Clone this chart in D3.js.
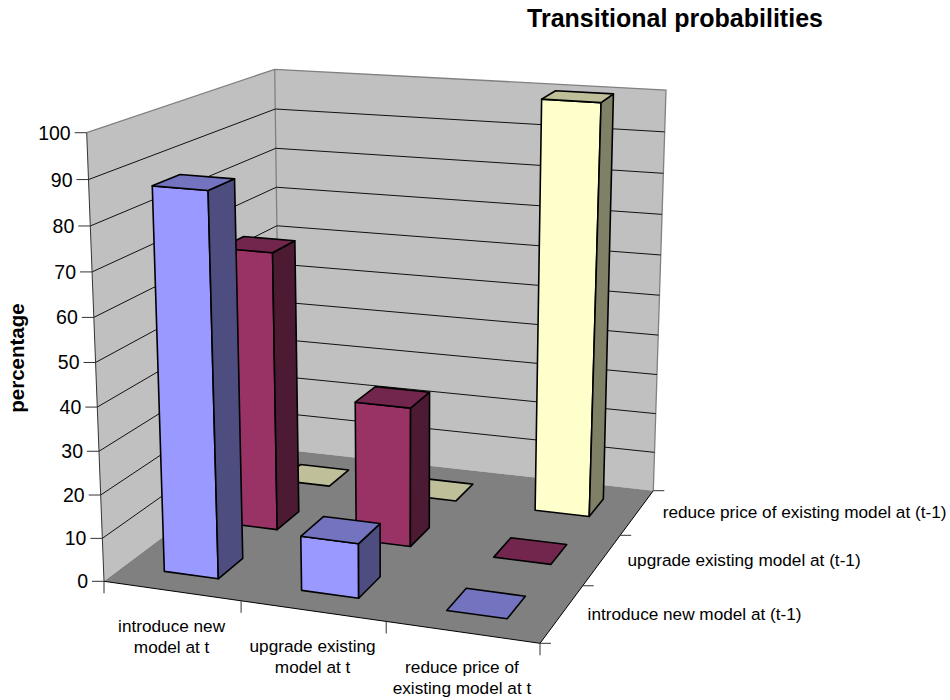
<!DOCTYPE html>
<html>
<head>
<meta charset="utf-8">
<script src="https://cdn.jsdelivr.net/npm/d3@7/dist/d3.min.js"></script>
<style>
html,body{margin:0;padding:0;background:#fff}
text{font-family:"Liberation Sans",Arial,sans-serif;fill:#000}
</style>
</head>
<body>
<svg id="chart" width="950" height="700"></svg>
<script>
const chartTitle = "Transitional probabilities";
const valueTitle = "percentage";
const actions = [["introduce new","model at t"],["upgrade existing","model at t"],["reduce price of","existing model at t"]];
const actionKeys = ["new","upgrade","reduce"];
const priorKeys = ["new","upgrade","reduce"];
const priorLabels = ["introduce new model at (t-1)","upgrade existing model at (t-1)","reduce price of existing model at (t-1)"];
const newValues = [87.5, 12.5, 0];
const upgradeValues = [66.7, 33.3, 0];
const reduceValues = [0, 0, 100];
const faceColors = [
  {front:"#9999ff", top:"#7373bf", side:"#4d4d80"},
  {front:"#993366", top:"#73264d", side:"#4d1a33"},
  {front:"#ffffcc", top:"#bfbf99", side:"#808066"}
];

const svg = d3.select("#chart");

// Corners of the plot box in screen space: floor and ceiling planes.
const floorQuad = [[104,581.3],[540,643.3],[653.3,490.7],[280,449.3]];
const ceilQuad  = [[86.7,132.7],[566,171],[666,90],[274.7,69.3]];
const verticalFore = 1.05;

function unitSquareToQuad(q){
  const [[x0,y0],[x1,y1],[x2,y2],[x3,y3]] = q;
  const dx1=x1-x2, dx2=x3-x2, sx=x0-x1+x2-x3;
  const dy1=y1-y2, dy2=y3-y2, sy=y0-y1+y2-y3;
  const d=dx1*dy2-dx2*dy1;
  const g=(sx*dy2-dx2*sy)/d, h=(dx1*sy-sx*dy1)/d;
  const a=x1-x0+g*x1, b=x3-x0+h*x3, c=x0;
  const e=y1-y0+g*y1, f=y3-y0+h*y3, k=y0;
  return (u,v)=>{const w=g*u+h*v+1;return [(a*u+b*v+c)/w,(e*u+f*v+k)/w];};
}
const floorMap = unitSquareToQuad(floorQuad);
const ceilMap  = unitSquareToQuad(ceilQuad);

const xBand = d3.scaleBand().domain(actionKeys).range([0,1]).paddingInner(0.6).paddingOuter(0.3);
const zBand = d3.scaleBand().domain(priorKeys).range([0,1]).paddingInner(0.6).paddingOuter(0.3);
const xStep = d3.scaleLinear().domain([0,actionKeys.length]).range([0,1]);
const zStep = d3.scaleLinear().domain([0,priorKeys.length]).range([0,1]);
const yScale = d3.scaleLinear().domain([0,100]).range([0,1]);

// Perspective along the vertical: heights grow slightly toward the top.
function project(u,w,value){
  const t0=yScale(value);
  const t=t0/(t0+(1-t0)*verticalFore);
  const a=floorMap(u,w), b=ceilMap(u,w);
  return [a[0]+(b[0]-a[0])*t, a[1]+(b[1]-a[1])*t];
}
const poly = pts => pts.map(p=>p.map(n=>n.toFixed(2)).join(",")).join(" ");

const walls = svg.append("g");
// Left and back walls
walls.append("polygon")
  .attr("points",poly([project(0,0,0),project(0,0,100),project(0,1,100),project(0,1,0)]))
  .attr("fill","#c0c0c0");
walls.append("polygon")
  .attr("points",poly([project(0,1,0),project(0,1,100),project(1,1,100),project(1,1,0)]))
  .attr("fill","#c0c0c0");
// Grey outline of the walls
walls.append("polyline")
  .attr("points",poly([project(0,0,100),project(0,1,100),project(1,1,100),project(1,1,0)]))
  .attr("fill","none").attr("stroke","#808080").attr("stroke-width",1.3);
walls.append("line")
  .attr("x1",project(0,1,0)[0]).attr("y1",project(0,1,0)[1])
  .attr("x2",project(0,1,100)[0]).attr("y2",project(0,1,100)[1])
  .attr("stroke","#808080").attr("stroke-width",1.3);
// Floor
walls.append("polygon")
  .attr("points",poly([project(0,0,0),project(1,0,0),project(1,1,0),project(0,1,0)]))
  .attr("fill","#808080");

// Gridlines along both walls
const ticks = yScale.ticks(10);
ticks.filter(v=>v>0 && v<100).forEach(v=>{
  walls.append("polyline")
    .attr("points",poly([project(0,0,v),project(0,1,v),project(1,1,v)]))
    .attr("fill","none").attr("stroke","#111").attr("stroke-width",1);
});

// Axes
const axes = svg.append("g").attr("stroke","#000").attr("stroke-width",1);
const seg=(a,b,col)=>axes.append("line").attr("x1",a[0]).attr("y1",a[1]).attr("x2",b[0]).attr("y2",b[1]).attr("stroke",col||"#000");
seg(project(0,0,0),project(0,0,100),"#333");
seg(project(0,0,0),project(1,0,0));
seg(project(1,0,0),project(1,1,0));
ticks.forEach(v=>{
  const p=project(0,0,v);
  seg([p[0]-12,p[1]],p,"#333");
  svg.append("text").attr("x",p[0]-16).attr("y",p[1]).attr("dy","0.36em")
    .attr("text-anchor","end").attr("font-size",19.5).text(v);
});
d3.range(actionKeys.length+1).forEach(i=>{
  const p=project(xStep(i),0,0);
  seg(p,[p[0],p[1]+12],"#333");
});
d3.range(priorKeys.length+1).forEach(i=>{
  const p=project(1,zStep(i),0);
  seg(p,[p[0]+11,p[1]],"#333");
});

// Category labels under the front edge
actions.forEach((lines,i)=>{
  const p=project(xStep(i+0.5),0,0);
  lines.forEach((s,j)=>{
    svg.append("text").attr("x",p[0]).attr("y",p[1]+41+j*21)
      .attr("text-anchor","middle").attr("font-size",17.2).text(s);
  });
});
// Series labels beside the right edge
priorLabels.forEach((s,i)=>{
  const p=project(1,zStep(i+0.5),0);
  svg.append("text").attr("x",p[0]+25.5).attr("y",p[1]+6).attr("font-size",17.2).text(s);
});

svg.append("text").attr("x",675).attr("y",26.5).attr("text-anchor","middle")
  .attr("font-size",25).attr("font-weight","bold").text(chartTitle);
svg.append("text").attr("transform","translate(24,358) rotate(-90)").attr("text-anchor","middle")
  .attr("font-size",20.5).attr("font-weight","bold").text(valueTitle);

// Bars: back row first, left to right inside each row
const rows = [newValues, upgradeValues, reduceValues];
const bars = svg.append("g").attr("stroke","#000").attr("stroke-width",1.6).attr("stroke-linejoin","round");
d3.range(rows.length-1,-1,-1).forEach(r=>{
  rows[r].forEach((val,c)=>{
    const x0=xBand(actionKeys[c]), x1=x0+xBand.bandwidth();
    const z0=zBand(priorKeys[r]), z1=z0+zBand.bandwidth();
    const col=faceColors[r];
    const g=bars.append("g");
    if(val>0){
      g.append("polygon").attr("fill",col.front)
        .attr("points",poly([project(x0,z0,0),project(x1,z0,0),project(x1,z0,val),project(x0,z0,val)]));
      g.append("polygon").attr("fill",col.side)
        .attr("points",poly([project(x1,z0,0),project(x1,z1,0),project(x1,z1,val),project(x1,z0,val)]));
    }
    g.append("polygon").attr("fill",col.top)
      .attr("points",poly([project(x0,z0,val),project(x1,z0,val),project(x1,z1,val),project(x0,z1,val)]));
  });
});
</script>
</body>
</html>
